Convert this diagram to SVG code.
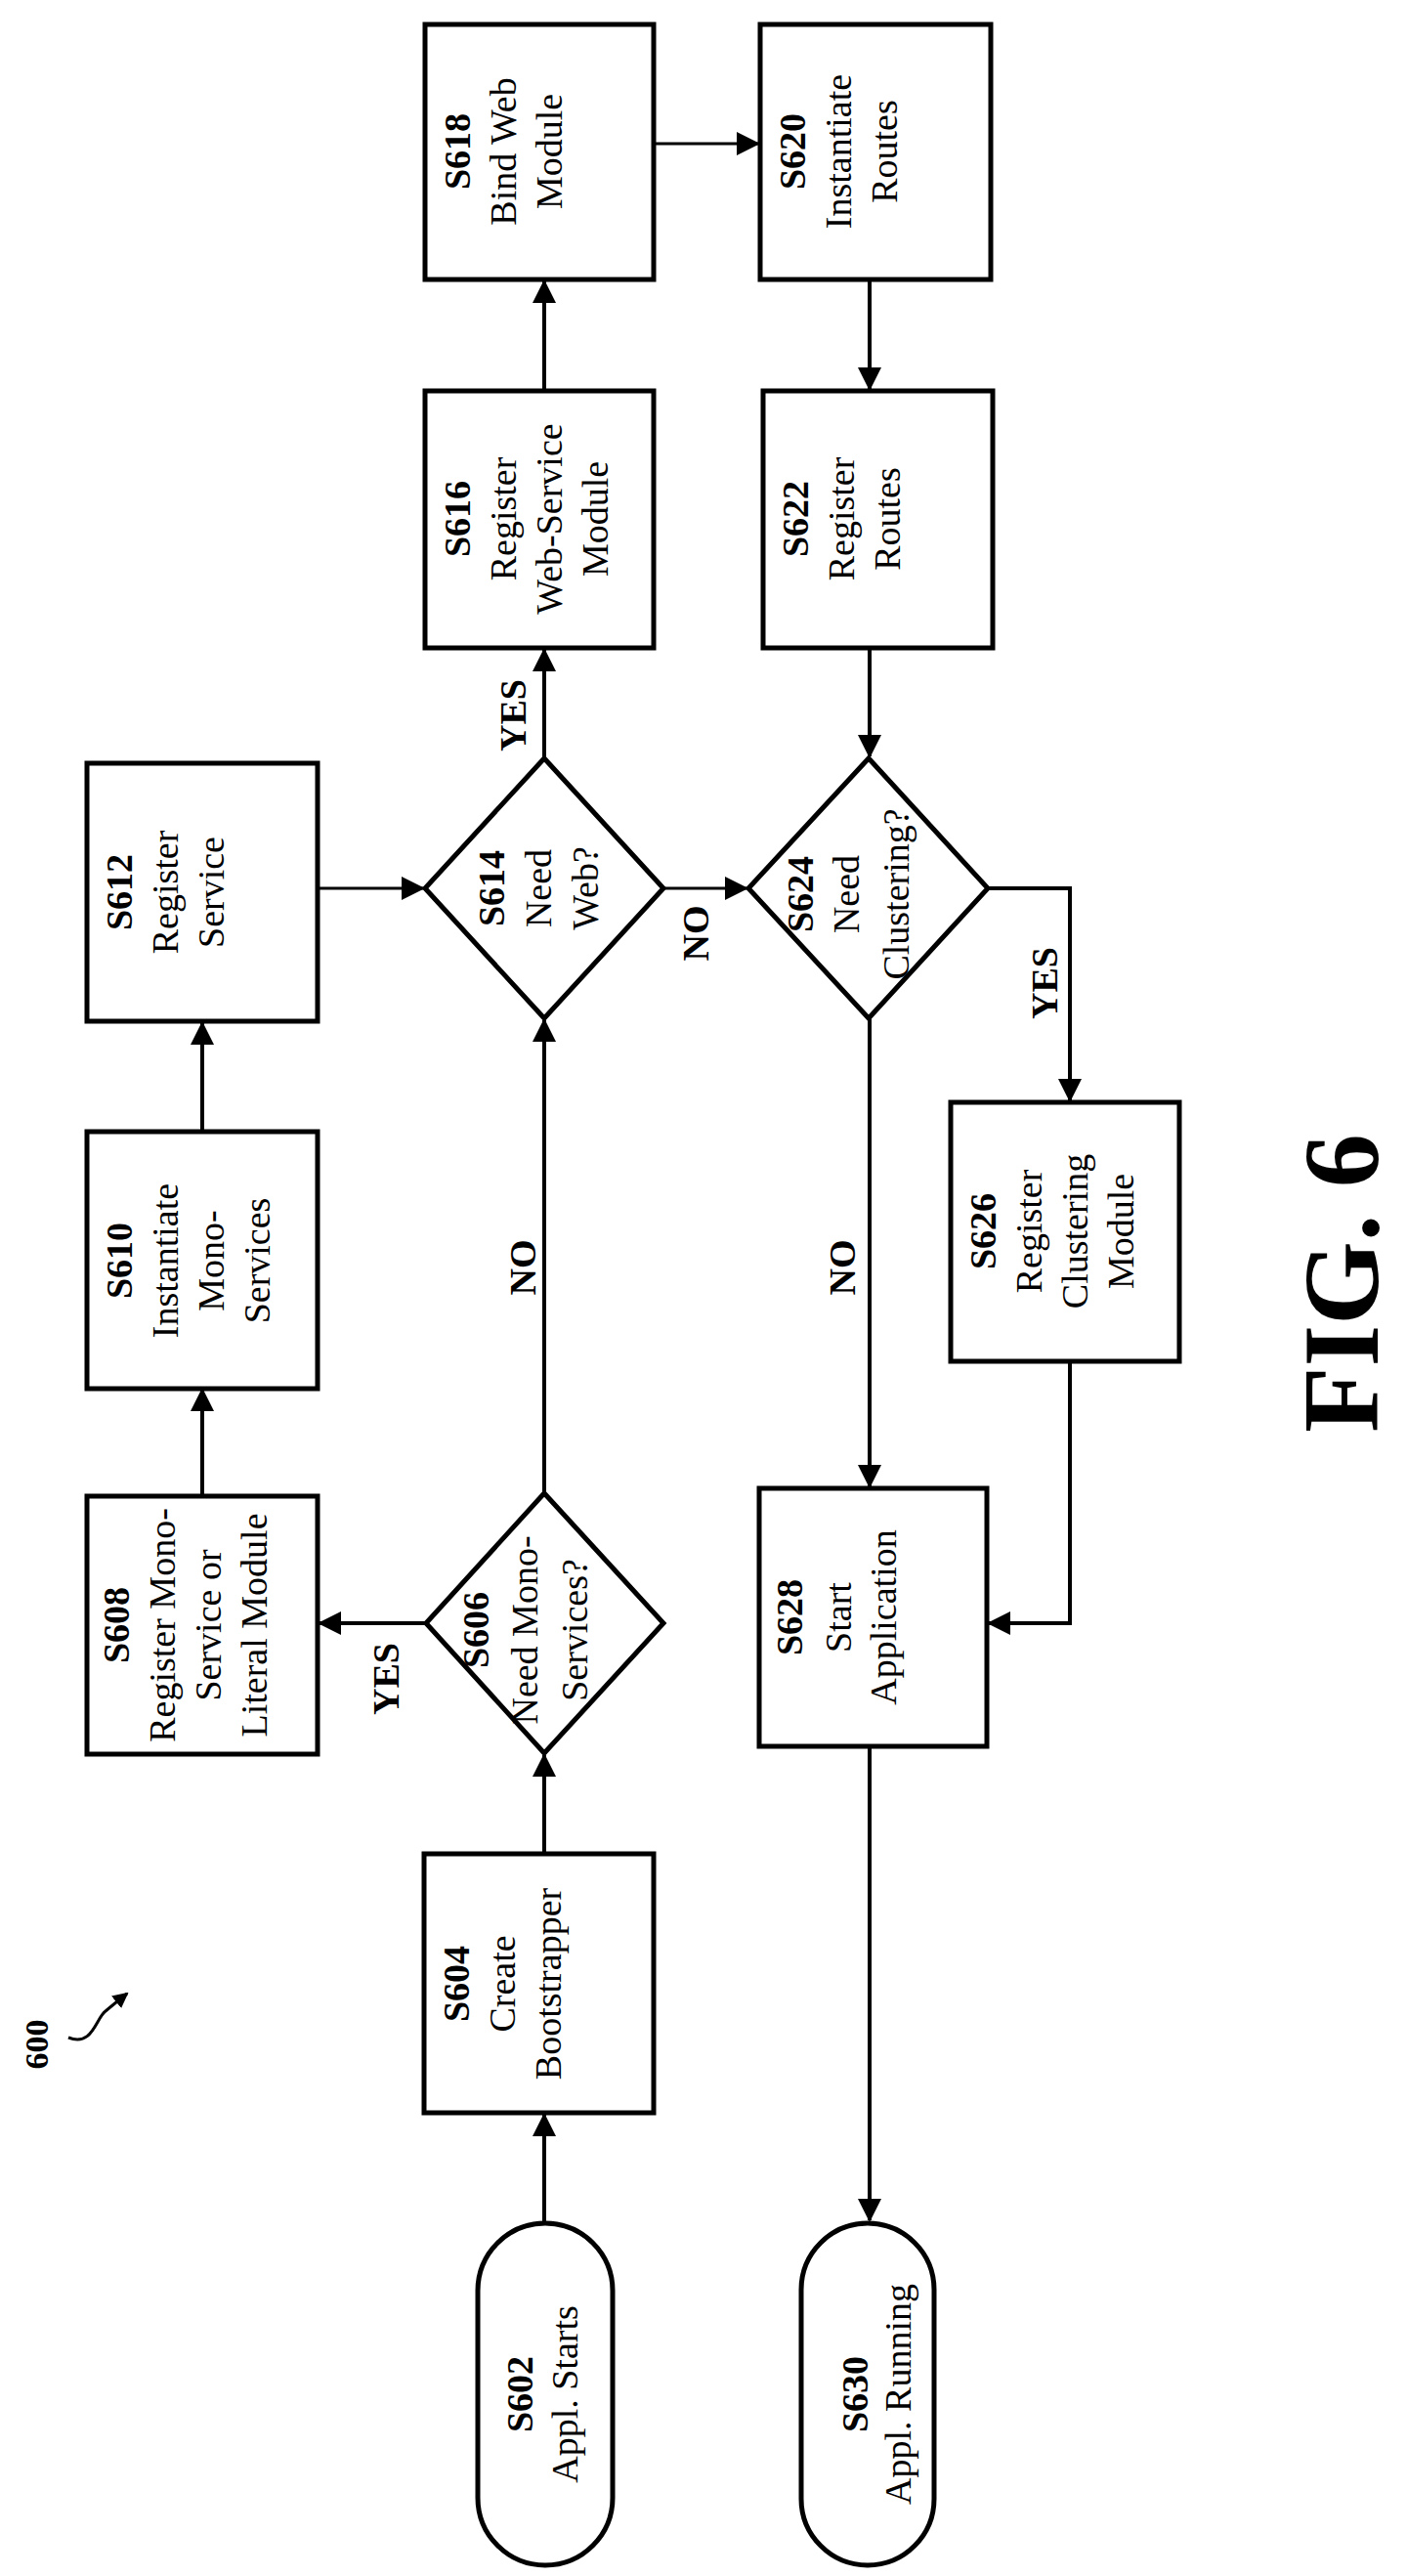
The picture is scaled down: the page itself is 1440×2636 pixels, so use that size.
<svg xmlns="http://www.w3.org/2000/svg" width="1440" height="2636" viewBox="0 0 1440 2636">
<style>
.b{fill:#fff;stroke:#000;stroke-width:5}
text{font-family:"Liberation Serif","Times New Roman",serif;font-size:38px;fill:#000;text-anchor:middle}
.bd{font-weight:bold}
.c{fill:none;stroke:#000;stroke-width:4}
</style>
<defs>
<marker id="a" markerUnits="userSpaceOnUse" markerWidth="24" markerHeight="24" refX="22" refY="12" orient="auto"><path d="M0,0 L24,12 L0,24 Z" fill="#000"/></marker>
<marker id="s" markerUnits="userSpaceOnUse" markerWidth="16" markerHeight="16" refX="14" refY="8" orient="auto"><path d="M0,0 L16,8 L0,16 Z" fill="#000"/></marker>
</defs>
<rect width="1440" height="2636" fill="#fff"/>
<g id="connectors">
<line class="c" x1="557" y1="2275" x2="557" y2="2164" marker-end="url(#a)"/>
<line class="c" x1="557" y1="1897" x2="557" y2="1796" marker-end="url(#a)"/>
<line class="c" x1="436" y1="1661" x2="327" y2="1661" marker-end="url(#a)"/>
<line class="c" x1="557" y1="1528" x2="557" y2="1044" marker-end="url(#a)"/>
<line class="c" x1="207" y1="1531" x2="207" y2="1422" marker-end="url(#a)"/>
<line class="c" x1="207" y1="1158" x2="207" y2="1047" marker-end="url(#a)"/>
<line class="c" style="stroke-width:3" x1="325" y1="909" x2="433" y2="909" marker-end="url(#a)"/>
<line class="c" x1="557" y1="776" x2="557" y2="665" marker-end="url(#a)"/>
<line class="c" x1="557" y1="400" x2="557" y2="288" marker-end="url(#a)"/>
<line class="c" style="stroke-width:3" x1="669" y1="147" x2="776" y2="147" marker-end="url(#a)"/>
<line class="c" x1="890" y1="286" x2="890" y2="398" marker-end="url(#a)"/>
<line class="c" x1="890" y1="663" x2="890" y2="774" marker-end="url(#a)"/>
<line class="c" style="stroke-width:3" x1="679" y1="909" x2="764" y2="909" marker-end="url(#a)"/>
<polyline class="c" points="1011,909 1095,909 1095,1126" marker-end="url(#a)"/>
<line class="c" x1="890" y1="1042" x2="890" y2="1521" marker-end="url(#a)"/>
<polyline class="c" points="1095,1393 1095,1661 1012,1661" marker-end="url(#a)"/>
<line class="c" x1="890" y1="1787" x2="890" y2="2272" marker-end="url(#a)"/>
<path class="c" style="stroke-width:3" d="M70,2085 C95,2095 98,2065 108,2058 C115,2052 120,2048 130,2040" marker-end="url(#s)"/>
<g class="bd">
<text transform="translate(395,1718) rotate(-90)" y="13">YES</text>
<text transform="translate(535,1297) rotate(-90)" y="13">NO</text>
<text transform="translate(525,732) rotate(-90)" y="13">YES</text>
<text transform="translate(712,955) rotate(-90)" y="13">NO</text>
<text transform="translate(1069,1006) rotate(-90)" y="13">YES</text>
<text transform="translate(862,1297) rotate(-90)" y="13">NO</text>
</g>
</g>
<g id="S602"><rect class="b" x="489" y="2275" width="138" height="350" rx="69"/>
<text transform="translate(489,2450) rotate(-90)"><tspan class="bd" x="0" y="56">S602</tspan><tspan x="0" y="102">Appl. Starts</tspan></text></g>
<g id="S604"><rect class="b" x="434" y="1897" width="235" height="265"/>
<text transform="translate(434,2030) rotate(-90)"><tspan class="bd" x="0" y="46">S604</tspan><tspan x="0" y="93">Create</tspan><tspan x="0" y="140">Bootstrapper</tspan></text></g>
<g id="S606"><polygon class="b" points="557,1528 679,1661 557,1794 436,1661"/>
<text transform="translate(436,1668) rotate(-90)"><tspan class="bd" x="0" y="64">S606</tspan><tspan x="0" y="114">Need Mono-</tspan><tspan x="0" y="165">Services?</tspan></text></g>
<g id="S608"><rect class="b" x="89" y="1531" width="236" height="264"/>
<text transform="translate(89,1663) rotate(-90)"><tspan class="bd" x="0" y="43">S608</tspan><tspan x="0" y="90">Register Mono-</tspan><tspan x="0" y="137">Service or</tspan><tspan x="0" y="184">Literal Module</tspan></text></g>
<g id="S610"><rect class="b" x="89" y="1158" width="236" height="263"/>
<text transform="translate(89,1290) rotate(-90)"><tspan class="bd" x="0" y="46">S610</tspan><tspan x="0" y="93">Instantiate</tspan><tspan x="0" y="140">Mono-</tspan><tspan x="0" y="187">Services</tspan></text></g>
<g id="S612"><rect class="b" x="89" y="781" width="236" height="264"/>
<text transform="translate(89,913) rotate(-90)"><tspan class="bd" x="0" y="46">S612</tspan><tspan x="0" y="93">Register</tspan><tspan x="0" y="140">Service</tspan></text></g>
<g id="S614"><polygon class="b" points="557,776 679,909 557,1042 435,909"/>
<text transform="translate(435,909) rotate(-90)"><tspan class="bd" x="0" y="81">S614</tspan><tspan x="0" y="129">Need</tspan><tspan x="0" y="177">Web?</tspan></text></g>
<g id="S616"><rect class="b" x="435" y="400" width="234" height="263"/>
<text transform="translate(435,531) rotate(-90)"><tspan class="bd" x="0" y="46">S616</tspan><tspan x="0" y="93">Register</tspan><tspan x="0" y="140">Web-Service</tspan><tspan x="0" y="187">Module</tspan></text></g>
<g id="S618"><rect class="b" x="435" y="25" width="234" height="261"/>
<text transform="translate(435,155) rotate(-90)"><tspan class="bd" x="0" y="46">S618</tspan><tspan x="0" y="93">Bind Web</tspan><tspan x="0" y="140">Module</tspan></text></g>
<g id="S620"><rect class="b" x="778" y="25" width="236" height="261"/>
<text transform="translate(778,155) rotate(-90)"><tspan class="bd" x="0" y="46">S620</tspan><tspan x="0" y="93">Instantiate</tspan><tspan x="0" y="140">Routes</tspan></text></g>
<g id="S622"><rect class="b" x="781" y="400" width="235" height="263"/>
<text transform="translate(781,531) rotate(-90)"><tspan class="bd" x="0" y="46">S622</tspan><tspan x="0" y="93">Register</tspan><tspan x="0" y="140">Routes</tspan></text></g>
<g id="S624"><polygon class="b" points="889,776 1011,909 889,1042 766,909"/>
<text transform="translate(766,915) rotate(-90)"><tspan class="bd" x="0" y="66">S624</tspan><tspan x="0" y="113">Need</tspan><tspan x="0" y="164">Clustering?</tspan></text></g>
<g id="S626"><rect class="b" x="973" y="1128" width="234" height="265"/>
<text transform="translate(973,1260) rotate(-90)"><tspan class="bd" x="0" y="46">S626</tspan><tspan x="0" y="93">Register</tspan><tspan x="0" y="140">Clustering</tspan><tspan x="0" y="187">Module</tspan></text></g>
<g id="S628"><rect class="b" x="777" y="1523" width="233" height="264"/>
<text transform="translate(777,1655) rotate(-90)"><tspan class="bd" x="0" y="44">S628</tspan><tspan x="0" y="94">Start</tspan><tspan x="0" y="140">Application</tspan></text></g>
<g id="S630"><rect class="b" x="820" y="2275" width="136" height="350" rx="68"/>
<text transform="translate(820,2450) rotate(-90)"><tspan class="bd" x="0" y="68">S630</tspan><tspan x="0" y="112">Appl. Running</tspan></text></g>
<g id="labels">
<text class="bd" transform="translate(37,2092) rotate(-90)" y="12" style="font-size:34px">600</text>
<text class="bd" transform="translate(1372,1313) rotate(-90)" y="38" style="font-size:110px">FIG. 6</text>
</g>
</svg>
